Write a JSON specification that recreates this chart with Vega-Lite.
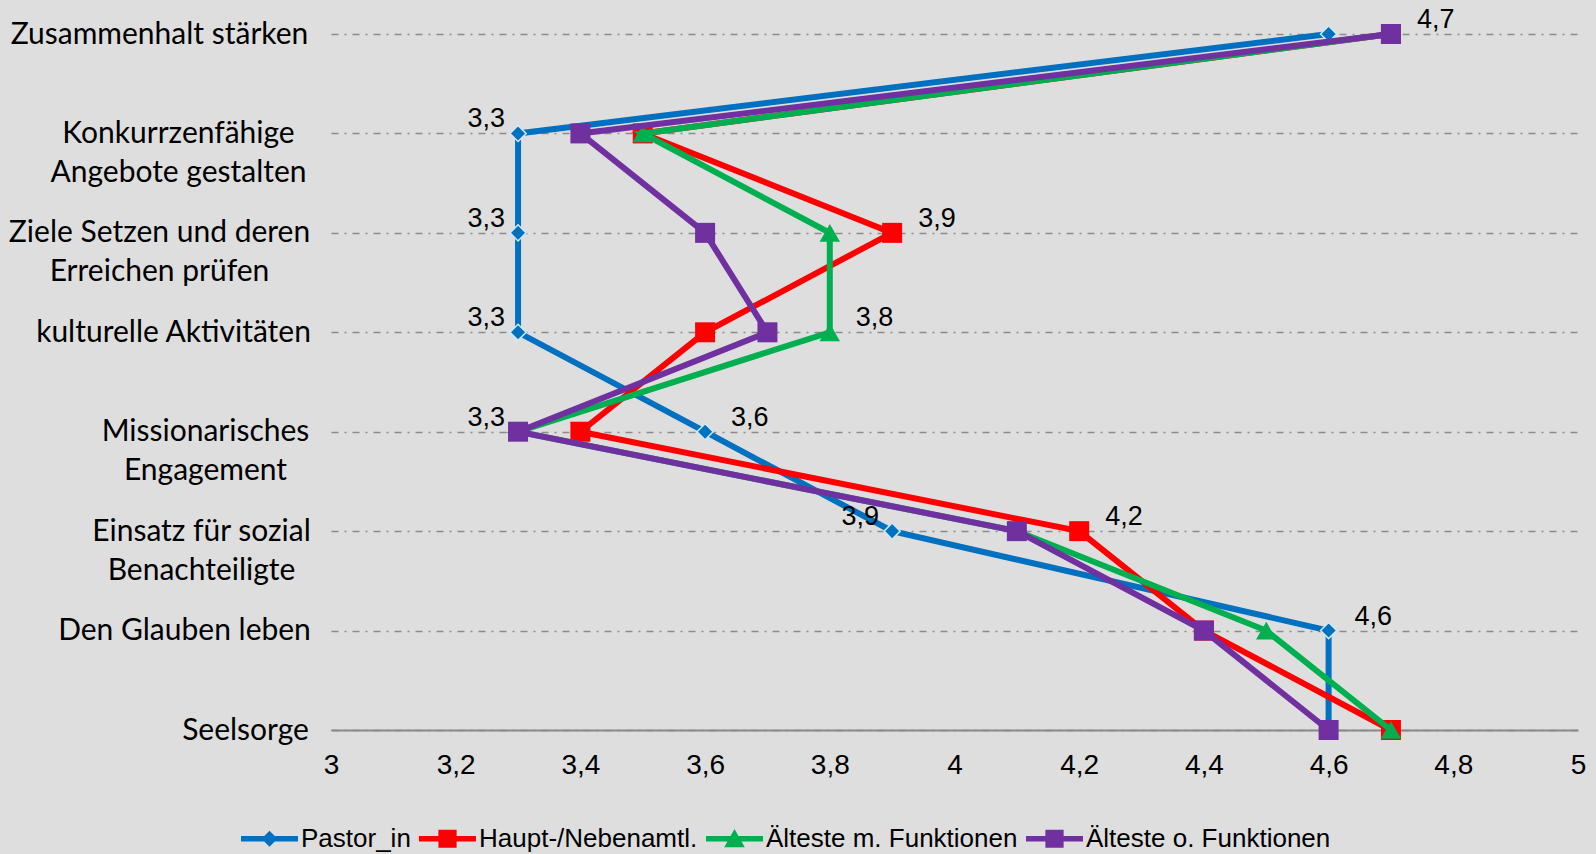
{
  "$schema": "https://vega.github.io/schema/vega-lite/v6.json",
  "autosize": "none",
  "padding": {"left": 331, "top": 34, "right": 18, "bottom": 124},
  "width": 1247,
  "height": 696,
  "background": "#dedede",
  "config": {
    "view": {"stroke": null},
    "locale": {"number": {"decimal": ",", "thousands": ".", "grouping": [3], "currency": ["", " €"]}}
  },
  "data": {
    "values": [
      {"s": "Pastor_in", "c": "Zusammenhalt stärken", "k": 1, "v": 4.6, "show": false},
      {"s": "Pastor_in", "c": "Konkurrzenfähige|Angebote gestalten", "k": 2, "v": 3.3, "show": true},
      {"s": "Pastor_in", "c": "Ziele Setzen und deren|Erreichen prüfen", "k": 3, "v": 3.3, "show": true},
      {"s": "Pastor_in", "c": "kulturelle Aktivitäten", "k": 4, "v": 3.3, "show": true},
      {"s": "Pastor_in", "c": "Missionarisches|Engagement", "k": 5, "v": 3.6, "show": true},
      {"s": "Pastor_in", "c": "Einsatz für sozial|Benachteiligte", "k": 6, "v": 3.9, "show": true},
      {"s": "Pastor_in", "c": "Den Glauben leben", "k": 7, "v": 4.6, "show": true},
      {"s": "Pastor_in", "c": "Seelsorge", "k": 8, "v": 4.6, "show": false},
      {"s": "Haupt-/Nebenamtl.", "c": "Zusammenhalt stärken", "k": 1, "v": 4.7, "show": false},
      {"s": "Haupt-/Nebenamtl.", "c": "Konkurrzenfähige|Angebote gestalten", "k": 2, "v": 3.5, "show": false},
      {"s": "Haupt-/Nebenamtl.", "c": "Ziele Setzen und deren|Erreichen prüfen", "k": 3, "v": 3.9, "show": true},
      {"s": "Haupt-/Nebenamtl.", "c": "kulturelle Aktivitäten", "k": 4, "v": 3.6, "show": false},
      {"s": "Haupt-/Nebenamtl.", "c": "Missionarisches|Engagement", "k": 5, "v": 3.4, "show": false},
      {"s": "Haupt-/Nebenamtl.", "c": "Einsatz für sozial|Benachteiligte", "k": 6, "v": 4.2, "show": true},
      {"s": "Haupt-/Nebenamtl.", "c": "Den Glauben leben", "k": 7, "v": 4.4, "show": false},
      {"s": "Haupt-/Nebenamtl.", "c": "Seelsorge", "k": 8, "v": 4.7, "show": false},
      {"s": "Älteste m. Funktionen", "c": "Zusammenhalt stärken", "k": 1, "v": 4.7, "show": false},
      {"s": "Älteste m. Funktionen", "c": "Konkurrzenfähige|Angebote gestalten", "k": 2, "v": 3.5, "show": false},
      {"s": "Älteste m. Funktionen", "c": "Ziele Setzen und deren|Erreichen prüfen", "k": 3, "v": 3.8, "show": false},
      {"s": "Älteste m. Funktionen", "c": "kulturelle Aktivitäten", "k": 4, "v": 3.8, "show": true},
      {"s": "Älteste m. Funktionen", "c": "Missionarisches|Engagement", "k": 5, "v": 3.3, "show": false},
      {"s": "Älteste m. Funktionen", "c": "Einsatz für sozial|Benachteiligte", "k": 6, "v": 4.1, "show": false},
      {"s": "Älteste m. Funktionen", "c": "Den Glauben leben", "k": 7, "v": 4.5, "show": false},
      {"s": "Älteste m. Funktionen", "c": "Seelsorge", "k": 8, "v": 4.7, "show": false},
      {"s": "Älteste o. Funktionen", "c": "Zusammenhalt stärken", "k": 1, "v": 4.7, "show": true},
      {"s": "Älteste o. Funktionen", "c": "Konkurrzenfähige|Angebote gestalten", "k": 2, "v": 3.4, "show": false},
      {"s": "Älteste o. Funktionen", "c": "Ziele Setzen und deren|Erreichen prüfen", "k": 3, "v": 3.6, "show": false},
      {"s": "Älteste o. Funktionen", "c": "kulturelle Aktivitäten", "k": 4, "v": 3.7, "show": false},
      {"s": "Älteste o. Funktionen", "c": "Missionarisches|Engagement", "k": 5, "v": 3.3, "show": true},
      {"s": "Älteste o. Funktionen", "c": "Einsatz für sozial|Benachteiligte", "k": 6, "v": 4.1, "show": false},
      {"s": "Älteste o. Funktionen", "c": "Den Glauben leben", "k": 7, "v": 4.4, "show": false},
      {"s": "Älteste o. Funktionen", "c": "Seelsorge", "k": 8, "v": 4.6, "show": false}
    ]
  },
  "transform": [
    {"joinaggregate": [{"op": "min", "field": "v", "as": "mn"}, {"op": "max", "field": "v", "as": "mx"}], "groupby": ["c"]}
  ],
  "encoding": {
    "x": {
      "field": "v", "type": "quantitative",
      "scale": {"domain": [3, 5], "nice": false, "zero": false},
      "axis": {
        "title": null, "values": [3, 3.2, 3.4, 3.6, 3.8, 4, 4.2, 4.4, 4.6, 4.8, 5],
        "format": ".1~f", "grid": false, "ticks": false, "tickSize": 0,
        "domainColor": "#898989", "domainWidth": 2,
        "labelFont": "Liberation Sans", "labelFontSize": 28, "labelColor": "#000000",
        "labelPadding": 21, "labelFlush": false, "labelOverlap": false
      }
    },
    "y": {
      "field": "c", "type": "nominal", "sort": null,
      "scale": {"type": "point", "padding": 0},
      "axis": {
        "title": null, "domain": false, "ticks": false, "tickSize": 0,
        "grid": true, "gridColor": "#8c8c8c", "gridDash": [7, 6, 2, 6], "gridWidth": 1.5,
        "labelFont": "Lato", "labelFontSize": 30, "labelColor": "#000000",
        "labelAlign": "center", "labelBaseline": "middle", "labelLineHeight": 39,
        "labelLimit": 500, "labelOverlap": false,
        "labelExpr": "split(datum.label, '|')",
        "labelPadding": {
          "condition": [
            {"test": "datum.value == 'Zusammenhalt stärken'", "value": 172},
            {"test": "datum.value == 'Konkurrzenfähige|Angebote gestalten'", "value": 153},
            {"test": "datum.value == 'Ziele Setzen und deren|Erreichen prüfen'", "value": 172},
            {"test": "datum.value == 'kulturelle Aktivitäten'", "value": 158},
            {"test": "datum.value == 'Missionarisches|Engagement'", "value": 126},
            {"test": "datum.value == 'Einsatz für sozial|Benachteiligte'", "value": 130},
            {"test": "datum.value == 'Den Glauben leben'", "value": 147}
          ],
          "value": 86
        }
      }
    }
  },
  "layer": [
    {
      "transform": [{"filter": "datum.s === 'Pastor_in'"}],
      "mark": {"type": "line", "color": "#0070c0", "strokeWidth": 6, "strokeJoin": "miter",
        "point": {"shape": "diamond", "size": 260, "filled": true, "color": "#0070c0", "stroke": "#cdeaf8", "strokeWidth": 1.5, "opacity": 1}},
      "encoding": {"order": {"field": "k", "type": "quantitative"}}
    },
    {
      "transform": [{"filter": "datum.s === 'Haupt-/Nebenamtl.'"}],
      "mark": {"type": "line", "color": "#ff0000", "strokeWidth": 6, "strokeJoin": "miter",
        "point": {"shape": "square", "size": 400, "filled": true, "color": "#ff0000", "opacity": 1}},
      "encoding": {"order": {"field": "k", "type": "quantitative"}}
    },
    {
      "transform": [{"filter": "datum.s === 'Älteste m. Funktionen'"}],
      "mark": {"type": "line", "color": "#00b050", "strokeWidth": 6, "strokeJoin": "miter",
        "point": {"shape": "triangle-up", "size": 420, "filled": true, "color": "#00b050", "opacity": 1}},
      "encoding": {"order": {"field": "k", "type": "quantitative"}}
    },
    {
      "transform": [{"filter": "datum.s === 'Älteste o. Funktionen'"}],
      "mark": {"type": "line", "color": "#7030a0", "strokeWidth": 6, "strokeJoin": "miter",
        "point": {"shape": "square", "size": 400, "filled": true, "color": "#7030a0", "opacity": 1}},
      "encoding": {"order": {"field": "k", "type": "quantitative"}}
    },
    {
      "transform": [{"filter": "false"}],
      "mark": {"type": "point", "filled": true, "opacity": 1},
      "encoding": {
        "color": {
          "field": "s", "type": "nominal",
          "scale": {
            "domain": ["Pastor_in", "Haupt-/Nebenamtl.", "Älteste m. Funktionen", "Älteste o. Funktionen"],
            "range": ["#0070c0", "#ff0000", "#00b050", "#7030a0"]
          },
          "legend": {
            "orient": "none", "legendX": -90, "legendY": 776, "direction": "horizontal",
            "title": null, "symbolSize": 3249, "symbolStrokeWidth": 0, "symbolOpacity": 1,
            "labelFont": "Liberation Sans", "labelFontSize": 26, "labelColor": "#000000",
            "labelOffset": 3, "columnPadding": 8, "padding": 0, "labelLimit": 400
          }
        },
        "shape": {
          "field": "s", "type": "nominal",
          "scale": {
            "domain": ["Pastor_in", "Haupt-/Nebenamtl.", "Älteste m. Funktionen", "Älteste o. Funktionen"],
            "range": [
              "M-1,-0.1H1V0.1H-1Z M0,-0.28L0.28,0L0,0.28L-0.28,0Z",
              "M-1,-0.1H1V0.1H-1Z M-0.32,-0.32H0.32V0.32H-0.32Z",
              "M-1,-0.1H1V0.1H-1Z M0,-0.34L0.36,0.3L-0.36,0.3Z",
              "M-1,-0.1H1V0.1H-1Z M-0.32,-0.32H0.32V0.32H-0.32Z"
            ]
          },
          "legend": {
            "orient": "none", "legendX": -90, "legendY": 776, "direction": "horizontal",
            "title": null, "symbolSize": 3249, "symbolStrokeWidth": 0, "symbolOpacity": 1,
            "labelFont": "Liberation Sans", "labelFontSize": 26, "labelColor": "#000000",
            "labelOffset": 3, "columnPadding": 8, "padding": 0, "labelLimit": 400
          }
        }
      }
    },
    {
      "transform": [{"filter": "datum.show && datum.v === datum.mn"}],
      "mark": {"type": "text", "align": "right", "baseline": "middle", "dx": -13, "dy": -14, "font": "Liberation Sans", "fontSize": 27, "color": "#000000"},
      "encoding": {"text": {"field": "v", "type": "quantitative", "format": ".1f"}}
    },
    {
      "transform": [{"filter": "datum.show && datum.v === datum.mx"}],
      "mark": {"type": "text", "align": "left", "baseline": "middle", "dx": 26, "dy": -14, "font": "Liberation Sans", "fontSize": 27, "color": "#000000"},
      "encoding": {"text": {"field": "v", "type": "quantitative", "format": ".1f"}}
    }
  ]
}
